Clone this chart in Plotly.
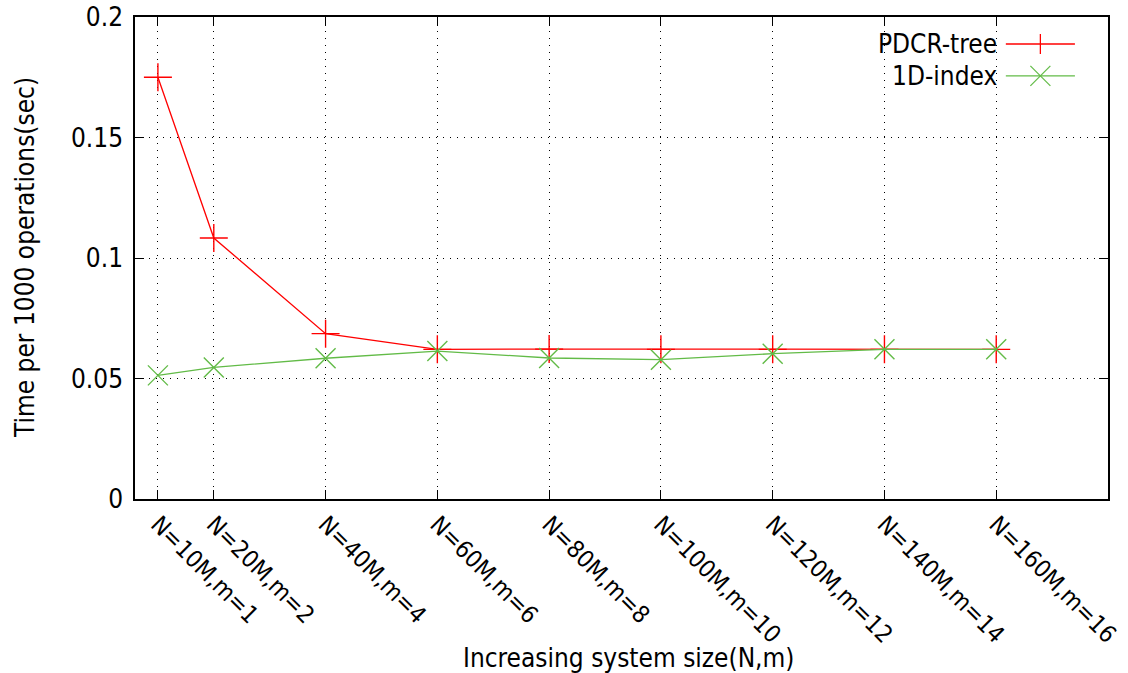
import plotly.graph_objects as go

# System sizes (N in millions) and their tick labels
sizes = [10, 20, 40, 60, 80, 100, 120, 140, 160]
tick_labels = ["N=10M,m=1", "N=20M,m=2", "N=40M,m=4", "N=60M,m=6", "N=80M,m=8",
               "N=100M,m=10", "N=120M,m=12", "N=140M,m=14", "N=160M,m=16"]

# Time per 1000 operations (sec)
pdcr_tree = [0.175, 0.1083, 0.0686, 0.0621, 0.0622, 0.0621, 0.0621, 0.0621, 0.0621]
index_1d = [0.0513, 0.0546, 0.0584, 0.0614, 0.0585, 0.0578, 0.0603, 0.0621, 0.0621]

RED = "#ff0000"
GREEN = "#62bb47"
FONT = "DejaVu Sans Condensed, DejaVu Sans, sans-serif"
FS = 26

W, H = 1128, 673
ML, MR, MT, MB = 135, 20, 17, 174
PW, PH = W - ML - MR, H - MT - MB

fig = go.Figure()
fig.add_trace(go.Scatter(
    x=sizes, y=pdcr_tree, mode="lines+markers", name="PDCR-tree",
    line=dict(color=RED, width=1.3),
    marker=dict(symbol="cross-thin", size=20, line=dict(color=RED, width=1.4)),
))
fig.add_trace(go.Scatter(
    x=sizes, y=index_1d, mode="lines+markers", name="1D-index",
    line=dict(color=GREEN, width=1.3),
    marker=dict(symbol="x-thin", size=20, line=dict(color=GREEN, width=1.4)),
))

# Legend drawn gnuplot-style: right-aligned text followed by the line sample
legend_items = [("PDCR-tree", RED, "+"), ("1D-index", GREEN, "x")]
shapes = []
annotations = []
for i, (label, color, sym) in enumerate(legend_items):
    yc = 0.944 - i * 0.0661
    annotations.append(dict(
        xref="paper", yref="paper", x=0.888, y=yc, text=label, showarrow=False,
        xanchor="right", yanchor="middle", font=dict(size=FS, color="black", family=FONT),
    ))
    shapes.append(dict(type="line", xref="paper", yref="paper",
                       x0=0.895, x1=0.966, y0=yc, y1=yc,
                       line=dict(color=color, width=1.3)))
    cx = 0.9305
    dx = 10 / PW
    dy = 10 / PH
    if sym == "+":
        shapes.append(dict(type="line", xref="paper", yref="paper",
                           x0=cx, x1=cx, y0=yc - dy, y1=yc + dy,
                           line=dict(color=color, width=1.3)))
    else:
        shapes.append(dict(type="line", xref="paper", yref="paper",
                           x0=cx - dx, x1=cx + dx, y0=yc - dy, y1=yc + dy,
                           line=dict(color=color, width=1.3)))
        shapes.append(dict(type="line", xref="paper", yref="paper",
                           x0=cx - dx, x1=cx + dx, y0=yc + dy, y1=yc - dy,
                           line=dict(color=color, width=1.3)))

# Axis titles placed as annotations
annotations.append(dict(
    xref="paper", yref="paper", x=(628 - ML) / PW, y=-(658 - (H - MB)) / PH,
    text="Increasing system size(N,m)", showarrow=False,
    xanchor="center", yanchor="middle", font=dict(size=FS, color="black", family=FONT),
))
annotations.append(dict(
    xref="paper", yref="paper", x=-(ML - 25) / PW, y=((H - MB) - 258) / PH,
    text="Time per 1000 operations(sec)", showarrow=False, textangle=-90,
    xanchor="center", yanchor="middle", font=dict(size=FS, color="black", family=FONT),
))

axis_common = dict(
    showline=True, linecolor="black", linewidth=1.5, mirror="allticks",
    ticks="inside", ticklen=9, tickwidth=1, tickcolor="black",
    showgrid=True, gridcolor="black", griddash="1px,6px", gridwidth=1.2,
    zeroline=False, tickfont=dict(size=FS, color="black", family=FONT),
    automargin=False, ticklabeloverflow="allow",
)

fig.update_layout(
    width=W, height=H,
    margin=dict(l=ML, r=MR, t=MT, b=MB, autoexpand=False),
    paper_bgcolor="white", plot_bgcolor="white",
    showlegend=False,
    font=dict(family=FONT, color="black"),
    xaxis=dict(
        axis_common, range=[5.9, 180], tickmode="array", tickvals=sizes,
        ticktext=tick_labels, tickangle=45,
        tickfont=dict(size=24, color="black", family=FONT),
    ),
    yaxis=dict(
        axis_common, range=[0, 0.2], tickvals=[0, 0.05, 0.1, 0.15, 0.2],
        ticktext=["0", "0.05", "0.1", "0.15", "0.2"], ticklabelstandoff=5,
    ),
    shapes=shapes,
    annotations=annotations,
)

fig.write_html("out.html")
